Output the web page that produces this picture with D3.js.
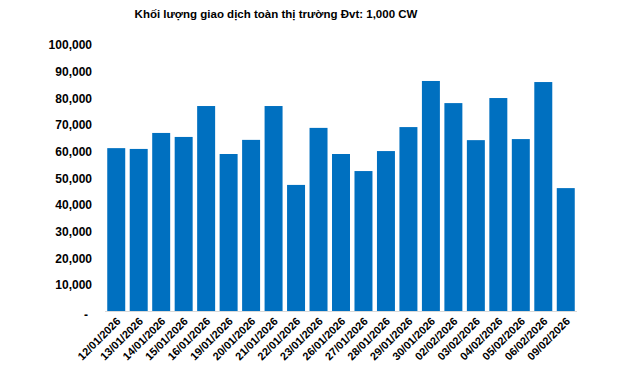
<!DOCTYPE html>
<html>
<head>
<meta charset="utf-8">
<script src="https://cdn.jsdelivr.net/npm/d3@7"></script>
<style>
  body { margin: 0; background: #fff; }
  svg { font-family: "Liberation Sans", Arial, sans-serif; }
</style>
</head>
<body>
<svg id="svg1" width="639" height="373"></svg>
<script>
var width = 639;
var height = 373;

// data
var dates = ['12/01/2026', '13/01/2026', '14/01/2026', '15/01/2026', '16/01/2026', '19/01/2026',
    '20/01/2026', '21/01/2026', '22/01/2026', '23/01/2026', '26/01/2026', '27/01/2026',
    '28/01/2026', '29/01/2026', '30/01/2026', '02/02/2026', '03/02/2026', '04/02/2026',
    '05/02/2026', '06/02/2026', '09/02/2026'];
var volumes = [61300, 61000, 67000, 65500, 77100, 59100,
    64400, 77100, 47500, 68900, 59100, 52700,
    60200, 69200, 86500, 78200, 64300, 80100,
    64700, 86100, 46300];
var yTicks = [0, 10000, 20000, 30000, 40000, 50000, 60000, 70000, 80000, 90000, 100000];

var chartTitle = 'Khối lượng giao dịch toàn thị trường Đvt: 1,000 CW';

var svg = d3.select('svg');

var x = d3.scaleBand()
    .domain(dates)
    .range([105, 577])
    .paddingInner(0.2)
    .paddingOuter(0.1);

var y = d3.scaleLinear()
    .domain([0, 100000])
    .range([311.5, 45]);

// title
svg.append('text')
    .attr('x', 276)
    .attr('y', 18)
    .attr('text-anchor', 'middle')
    .attr('font-size', '11.5px')
    .attr('font-weight', 'bold')
    .attr('fill', '#000')
    .text(chartTitle);

// bars
svg.selectAll('rect.bar')
    .data(volumes)
    .enter()
    .append('rect')
    .attr('class', 'bar')
    .attr('x', function(d, i) { return x(dates[i]); })
    .attr('width', x.bandwidth())
    .attr('y', function(d) { return y(d); })
    .attr('height', function(d) { return y(0) - y(d); })
    .attr('fill', '#0070c0');

// y axis labels only, no line
var yAxis = d3.axisLeft(y)
    .tickValues(yTicks)
    .tickSize(0)
    .tickPadding(0)
    .tickFormat(function(d) { return d === 0 ? '-' : d3.format(',')(d); });

var yG = svg.append('g')
    .attr('transform', 'translate(92,0)')
    .call(yAxis);
yG.select('.domain').remove();
yG.selectAll('text')
    .attr('font-size', '12px')
    .attr('font-weight', 'bold')
    .attr('font-family', '"Liberation Sans", Arial, sans-serif')
    .attr('fill', '#000');
yG.selectAll('.tick')
    .filter(function(d) { return d === 0; })
    .select('text')
    .attr('x', -4)
    .attr('dy', '0.6em');

// x axis baseline
svg.append('line')
    .attr('x1', 105)
    .attr('x2', 577)
    .attr('y1', y(0))
    .attr('y2', y(0))
    .attr('stroke', '#d9d9d9')
    .attr('stroke-width', 1);

// rotated date labels
svg.selectAll('text.xlab')
    .data(dates)
    .enter()
    .append('text')
    .attr('class', 'xlab')
    .attr('transform', function(d) {
        return 'translate(' + (x(d) + x.bandwidth() / 2 + 5) + ',' + 322 + ') rotate(-45)';
    })
    .attr('text-anchor', 'end')
    .attr('font-size', '11px')
    .attr('font-weight', 'bold')
    .attr('fill', '#000')
    .text(function(d) { return d; });
</script>
</body>
</html>
